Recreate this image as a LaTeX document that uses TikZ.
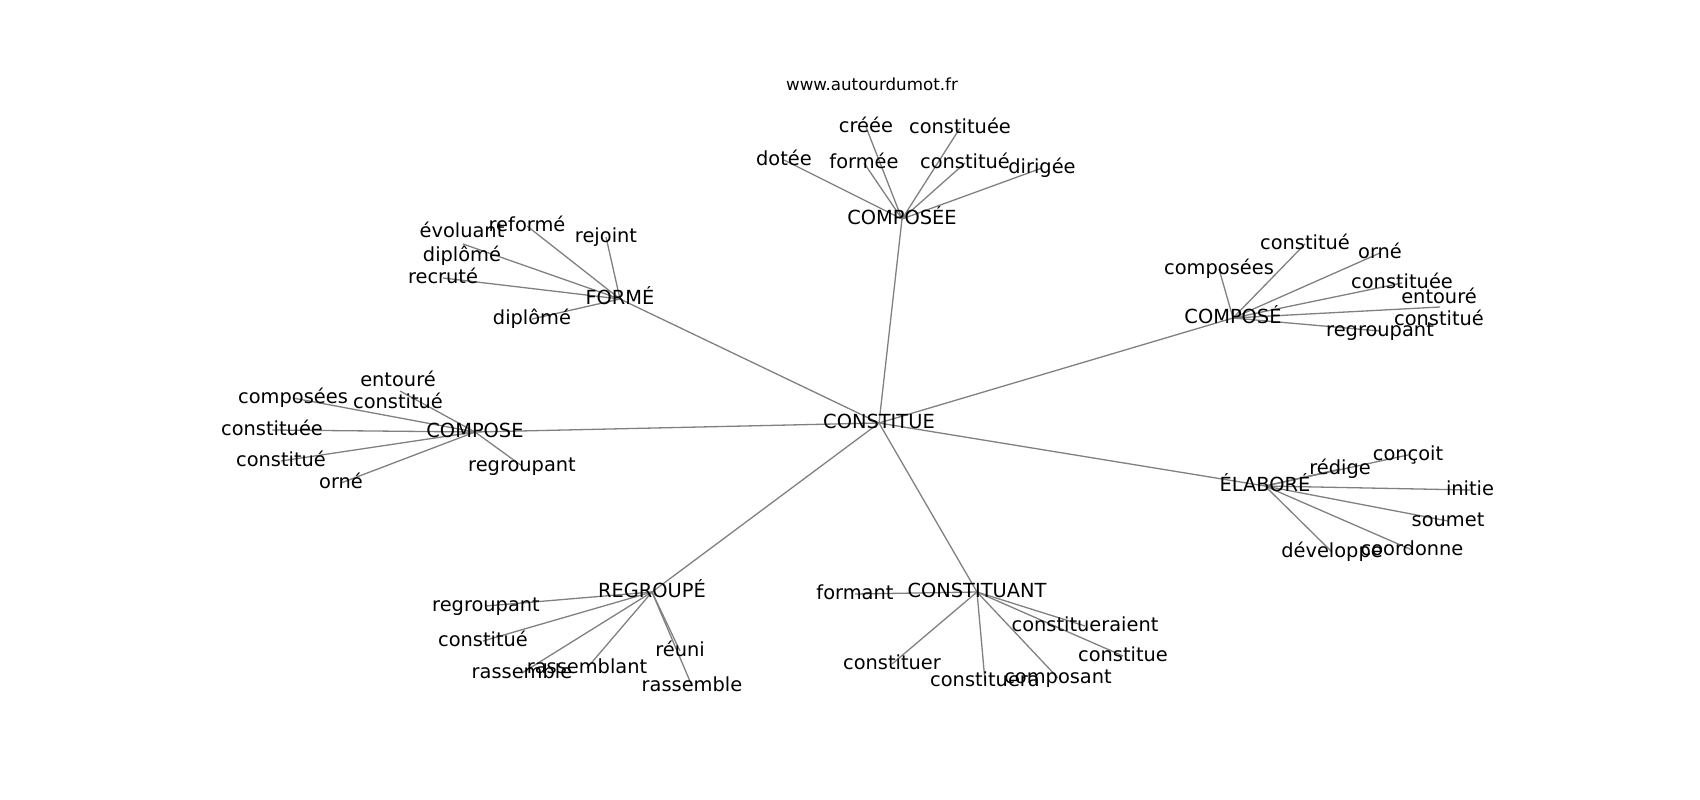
\documentclass[tikz,border=0pt]{standalone}
\usepackage{fontspec}
\setmainfont{DejaVu Sans}
\usetikzlibrary{backgrounds}

\begin{document}
\begin{tikzpicture}[x=1pt,y=-1pt,
  word/.style={font=\fontsize{19.4}{23}\selectfont, inner sep=0pt, text height=14.8pt, text depth=4.1pt},
  site/.style={font=\fontsize{16.7}{20}\selectfont, inner sep=0pt, text height=12.7pt, text depth=3.5pt},
  link/.style={draw=linkcolor, line width=1.3pt}]

\definecolor{linkcolor}{gray}{0.5}

    \useasboundingbox (0,0) rectangle (1700,800);

    \node[site] (site) at (872,86) {www.autourdumot.fr};

    %% centre
    \node[word] (constitue) at (879,423) {CONSTITUE};

    %% composée
    \node[word] (composee) at (902,219) {COMPOSÉE};
    \node[word] (dotee) at (784,160) {dotée};
    \node[word] (creee) at (866,127) {créée};
    \node[word] (formee) at (864,163) {formée};
    \node[word] (constituee1) at (960,128) {constituée};
    \node[word] (constitue1) at (965,163) {constitué};
    \node[word] (dirigee) at (1042,168) {dirigée};

    %% formé
    \node[word] (forme) at (620,299) {FORMÉ};
    \node[word] (evoluant) at (462,232) {évoluant};
    \node[word] (reforme) at (527,226) {reformé};
    \node[word] (rejoint) at (606,237) {rejoint};
    \node[word] (diplome1) at (462,256) {diplômé};
    \node[word] (recrute) at (443,278) {recruté};
    \node[word] (diplome2) at (532,319) {diplômé};
    \coordinate (evoluantend) at (463,244);

    %% composé
    \node[word] (compose1) at (1233,318) {COMPOSÉ};
    \node[word] (composees1) at (1219,269) {composées};
    \node[word] (constitue2) at (1305,244) {constitué};
    \node[word] (orne1) at (1380,253) {orné};
    \node[word] (constituee2) at (1402,283) {constituée};
    \node[word] (entoure1) at (1439,298) {entouré};
    \node[word] (constitue3) at (1439,320) {constitué};
    \node[word] (regroupant1) at (1380,331) {regroupant};
    \coordinate (entoure1end) at (1440,307);

    %% compose
    \node[word] (compose2) at (475,432) {COMPOSE};
    \node[word] (entoure2) at (398,381) {entouré};
    \node[word] (constitue4) at (398,403) {constitué};
    \node[word] (composees2) at (293,398) {composées};
    \node[word] (constituee3) at (272,430) {constituée};
    \node[word] (constitue5) at (281,461) {constitué};
    \node[word] (orne2) at (341,483) {orné};
    \node[word] (regroupant2) at (522,466) {regroupant};
    \coordinate (entoure2end) at (400,391);

    %% élaboré
    \node[word] (elabore) at (1265,486) {ÉLABORÉ};
    \node[word] (concoit) at (1408,455) {conçoit};
    \node[word] (redige) at (1340,469) {rédige};
    \node[word] (initie) at (1470,490) {initie};
    \node[word] (soumet) at (1448,521) {soumet};
    \node[word] (coordonne) at (1412,550) {coordonne};
    \node[word] (developpe) at (1332,552) {développe};

    %% regroupé
    \node[word] (regroupe) at (652,592) {REGROUPÉ};
    \node[word] (regroupant3) at (486,606) {regroupant};
    \node[word] (constitue6) at (483,641) {constitué};
    \node[word] (rassemble1) at (522,673) {rassemble};
    \node[word] (rassemblant) at (587,668) {rassemblant};
    \node[word] (reuni) at (680,651) {réuni};
    \node[word] (rassemble2) at (692,686) {rassemble};

    %% constituant
    \node[word] (constituant) at (977,592) {CONSTITUANT};
    \node[word] (formant) at (855,594) {formant};
    \node[word] (constitueraient) at (1085,626) {constitueraient};
    \node[word] (constitue7) at (1123,656) {constitue};
    \node[word] (constituer) at (892,664) {constituer};
    \node[word] (constituera) at (985,681) {constituera};
    \node[word] (composant) at (1058,678) {composant};

    \begin{pgfonlayer}{background}
    % links from the centre
    \draw[link] (constitue.center) -- (composee.center);
    \draw[link] (constitue.center) -- (forme.center);
    \draw[link] (constitue.center) -- (compose1.center);
    \draw[link] (constitue.center) -- (compose2.center);
    \draw[link] (constitue.center) -- (elabore.center);
    \draw[link] (constitue.center) -- (regroupe.center);
    \draw[link] (constitue.center) -- (constituant.center);

    % composée
    \draw[link] (composee.center) -- (dotee.center);
    \draw[link] (composee.center) -- (creee.center);
    \draw[link] (composee.center) -- (formee.center);
    \draw[link] (composee.center) -- (constituee1.center);
    \draw[link] (composee.center) -- (constitue1.center);
    \draw[link] (composee.center) -- (dirigee.center);

    % formé
    \draw[link] (forme.center) -- (evoluantend);
    \draw[link] (forme.center) -- (reforme.center);
    \draw[link] (forme.center) -- (rejoint.center);
    \draw[link] (forme.center) -- (recrute.center);
    \draw[link] (forme.center) -- (diplome2.center);

    % composé
    \draw[link] (compose1.center) -- (composees1.center);
    \draw[link] (compose1.center) -- (constitue2.center);
    \draw[link] (compose1.center) -- (orne1.center);
    \draw[link] (compose1.center) -- (constituee2.center);
    \draw[link] (compose1.center) -- (entoure1end);
    \draw[link] (compose1.center) -- (regroupant1.center);

    % compose
    \draw[link] (compose2.center) -- (entoure2end);
    \draw[link] (compose2.center) -- (composees2.center);
    \draw[link] (compose2.center) -- (constituee3.center);
    \draw[link] (compose2.center) -- (constitue5.center);
    \draw[link] (compose2.center) -- (orne2.center);
    \draw[link] (compose2.center) -- (regroupant2.center);

    % élaboré
    \draw[link] (elabore.center) -- (concoit.center);
    \draw[link] (elabore.center) -- (redige.center);
    \draw[link] (elabore.center) -- (initie.center);
    \draw[link] (elabore.center) -- (soumet.center);
    \draw[link] (elabore.center) -- (coordonne.center);
    \draw[link] (elabore.center) -- (developpe.center);

    % regroupé
    \draw[link] (regroupe.center) -- (regroupant3.center);
    \draw[link] (regroupe.center) -- (constitue6.center);
    \draw[link] (regroupe.center) -- (rassemble1.center);
    \draw[link] (regroupe.center) -- (rassemblant.center);
    \draw[link] (regroupe.center) -- (reuni.center);
    \draw[link] (regroupe.center) -- (rassemble2.center);

    % constituant
    \draw[link] (constituant.center) -- (formant.center);
    \draw[link] (constituant.center) -- (constitueraient.center);
    \draw[link] (constituant.center) -- (constitue7.center);
    \draw[link] (constituant.center) -- (constituer.center);
    \draw[link] (constituant.center) -- (constituera.center);
    \draw[link] (constituant.center) -- (composant.center);
    \end{pgfonlayer}
  \end{tikzpicture}
\end{document}
